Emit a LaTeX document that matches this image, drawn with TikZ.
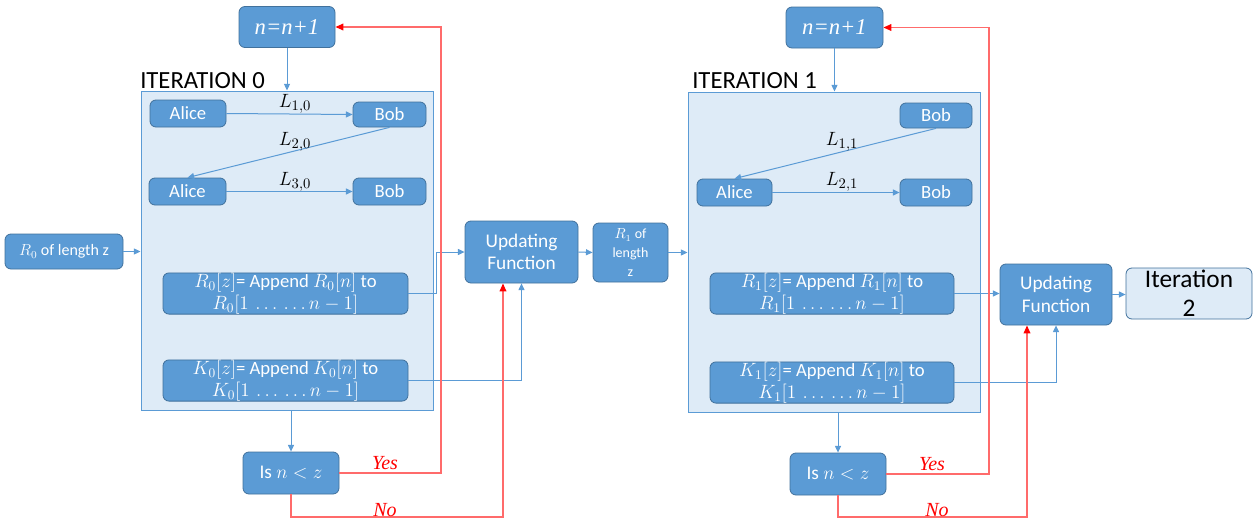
\documentclass[tikz,border=0pt]{standalone}
\usepackage{fontspec}
\setmainfont{Carlito}
\newfontfamily\serifit{Liberation Serif}
\usetikzlibrary{arrows.meta,calc}
\definecolor{bfill}{HTML}{5B9BD5}
\definecolor{bdraw}{HTML}{41719C}
\definecolor{cfill}{HTML}{DEEBF7}
\definecolor{ared}{HTML}{FF6B6B}
\tikzset{
  sz/.style 2 args={minimum width=#1*0.75pt,minimum height=#2*0.75pt},
  box/.style={rectangle,rounded corners=4.5pt,fill=bfill,draw=bdraw,line width=0.6pt,
    text=white,inner sep=0pt,align=center,font=\fontsize{14}{16}\selectfont},
  appbox/.style={box,font=\fontsize{14}{16.5}\selectfont},
  ufbox/.style={box,font=\fontsize{14.5}{17}\selectfont},
  isbox/.style={box,font=\fontsize{14.5}{16}\selectfont},
  nbox/.style={box,font=\serifit\itshape\fontsize{17}{19}\selectfont},
  cont/.style={rectangle,fill=cfill,draw=bfill,line width=0.7pt,inner sep=0pt},
  barrow/.style={draw=bfill,line width=0.75pt,-{Triangle[length=5pt,width=4.5pt]}},
  rarrow/.style={draw=ared,line width=1.1pt,-{Triangle[length=6pt,width=5pt,color=red]}},
  lab/.style={inner sep=0pt,font=\fontsize{15}{17}\selectfont},
  rlab/.style={inner sep=0pt,text=red,font=\serifit\itshape\fontsize{15}{17}\selectfont},
  itl/.style={inner sep=0pt,anchor=base west,font=\fontsize{18.5}{20}\selectfont},
}
\begin{document}
\begin{tikzpicture}[x=0.75pt,y=-0.75pt]
\useasboundingbox (0,0) rectangle (1254,521);
% containers
\node[cont,sz={292}{319}] (cont0) at (287,250.5) {};
\node[cont,sz={292}{320}] (cont1) at (834,252) {};
\node[itl] (it0) at (140,88) {ITERATION 0};
\node[itl] (it1) at (692,88) {ITERATION 1};
% left
\node[nbox,sz={96}{41}] (nbox0) at (287,27) {n=n+1};
\node[box,sz={76}{27}] (alice0a) at (188,113.5) {Alice};
\node[box,sz={73}{25}] (bob0a) at (389.5,114.5) {Bob};
\node[box,sz={77}{27}] (alice0b) at (187.5,191.5) {Alice};
\node[box,sz={73}{27}] (bob0b) at (389.5,191.5) {Bob};
\node[box,sz={118}{35},font=\fontsize{12}{14}\selectfont] (r0len) at (64,251.5) {$R_0$ of length z};
\node[appbox,sz={245}{41}] (r0app) at (285.5,293.5) {$R_0[z]$= Append $R_0[n]$ to\\$R_0[1\,\ldots\,\ldots n-1]$};
\node[appbox,sz={245}{41}] (k0app) at (285.5,380.5) {$K_0[z]$= Append $K_0[n]$ to\\$K_0[1\,\ldots\,\ldots n-1]$};
\node[isbox,sz={96}{42}] (isn0) at (291,473) {Is $n<z$};
\node[ufbox,sz={113}{62}] (uf0) at (521.5,252) {Updating\\Function};
\node[box,sz={75}{59},font=\fontsize{10.5}{14}\selectfont] (r1len) at (630.5,252.5) {$R_1$ of\\length\\z};
% right
\node[nbox,sz={97}{41}] (nbox1) at (834.5,27.5) {n=n+1};
\node[box,sz={72}{25}] (bob1a) at (936,115.5) {Bob};
\node[box,sz={75}{27}] (alice1) at (734.5,192.5) {Alice};
\node[box,sz={72}{27}] (bob1b) at (936,192.5) {Bob};
\node[appbox,sz={244}{41}] (r1app) at (832,293.5) {$R_1[z]$= Append $R_1[n]$ to\\$R_1[1\,\ldots\,\ldots n-1]$};
\node[appbox,sz={244}{41}] (k1app) at (832,382.5) {$K_1[z]$= Append $K_1[n]$ to\\$K_1[1\,\ldots\,\ldots n-1]$};
\node[isbox,sz={96}{42}] (isn1) at (838,474) {Is $n<z$};
\node[ufbox,sz={112}{61}] (uf1) at (1056,294.5) {Updating\\Function};
\node[box,sz={126}{51},fill=cfill,text=black,font=\fontsize{19}{22}\selectfont] (iter2) at (1189,293.5) {Iteration\\2};
% coordinates
\coordinate (yes0) at (441,0);
\coordinate (no0) at (503,517);
\coordinate (yes1) at (989,0);
\coordinate (no1) at (1027,517);
% blue connectors left
\draw[barrow] (nbox0.south) -- (nbox0.south |- cont0.north);
\draw[barrow] (alice0a.east) -- (bob0a.west);
\draw[barrow] (bob0a.south) -- (alice0b.north);
\draw[barrow] (alice0b.east) -- (bob0b.west);
\draw[barrow] (r0len.east) -- (r0len.east -| cont0.west);
\draw[barrow] (r0app.east) -- ($(r0app.east)+(28,0)$) |- (uf0.west);
\draw[barrow] (k0app.east) -| (uf0.south);
\draw[barrow] (isn0.north |- cont0.south) -- (isn0.north);
\draw[barrow] (uf0.east) -- (r1len.west);
\draw[barrow] (r1len.east) -- (r1len.east -| cont1.west);
% blue connectors right
\draw[barrow] (nbox1.south) -- (nbox1.south |- cont1.north);
\draw[barrow] (bob1a.south) -- (alice1.north);
\draw[barrow] (alice1.east) -- (bob1b.west);
\draw[barrow] (r1app.east) -- (r1app.east -| uf1.west);
\draw[barrow] (k1app.east) -| (uf1.south);
\draw[barrow] (isn1.north |- cont1.south) -- (isn1.north);
\draw[barrow] (uf1.east) -- (uf1.east -| iter2.west);
% red
\draw[rarrow] (isn0.east) -- (isn0.east -| yes0) |- (nbox0.east);
\draw[rarrow] (isn0.south) |- (no0) -- (no0 |- uf0.south);
\draw[rarrow] (isn1.east) -- (isn1.east -| yes1) |- (nbox1.east);
\draw[rarrow] (isn1.south) |- (no1) -- (no1 |- uf1.south);
% labels
\node[lab] (l10) at (295,104) {$L_{1,0}$};
\node[lab] (l20) at (295,142) {$L_{2,0}$};
\node[lab] (l30) at (295,182) {$L_{3,0}$};
\node[lab] (l11) at (842,142) {$L_{1,1}$};
\node[lab] (l21) at (842,182) {$L_{2,1}$};
\node[rlab] (ylab0) at (385,463) {Yes};
\node[rlab] (nlab0) at (385,510) {No};
\node[rlab] (ylab1) at (932,464) {Yes};
\node[rlab] (nlab1) at (937,510) {No};
\end{tikzpicture}
\end{document}
